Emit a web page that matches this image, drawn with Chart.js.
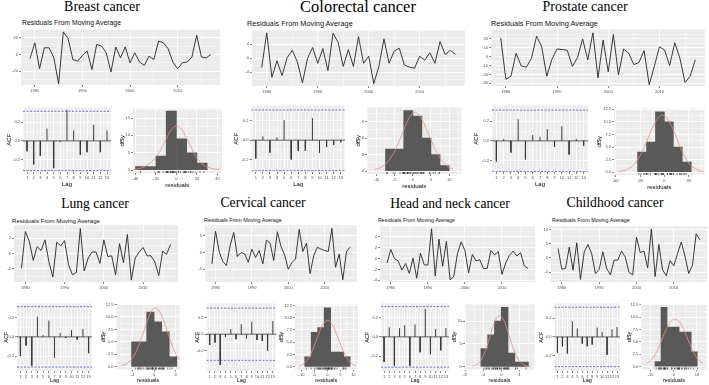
<!DOCTYPE html>
<html>
<head>
<meta charset="utf-8">
<title>Residuals from moving average</title>
<script src="https://cdn.jsdelivr.net/npm/chart.js@4.4.1/dist/chart.umd.min.js"></script>
<style>
  html, body { margin: 0; padding: 0; background: #fff; }
  body { position: relative; width: 709px; height: 385px; overflow: hidden; font-family: "Liberation Sans", Arial, sans-serif; }
  .title { position: absolute; font-family: "Liberation Serif", "Times New Roman", serif; line-height: 1; white-space: nowrap; color: #000; transform: translateX(-50%); }
  .sub { position: absolute; font-family: "Liberation Sans", Arial, sans-serif; line-height: 1; white-space: nowrap; color: #111; }
  canvas { position: absolute; }
</style>
</head>
<body>
<script>
"use strict";

// ---- data ----
const years = [1979, 1980, 1981, 1982, 1983, 1984, 1985, 1986, 1987, 1988,
  1989, 1990, 1991, 1992, 1993, 1994, 1995, 1996, 1997, 1998,
  1999, 2000, 2001, 2002, 2003, 2004, 2005, 2006, 2007, 2008,
  2009, 2010, 2011, 2012, 2013, 2014, 2015, 2016, 2017];
const lags = [1, 2, 3, 4, 5, 6, 7, 8, 9, 10, 11, 12, 13];
const acfLimit = 0.314;

// residuals
const breastResid = [-5, 14, -17, 8, 8, -4, -35, 27, 19, -6, -8, -1, 4, -18, 12, 10, 2, -21, 9, -4,
  9, -10, 2, -9, -13, -2, -6, 16, 14, 7, -9, -17, -10, -9, -3, 23, -3, -4, 0];
const colorectalResid = [-2.6, 7.3, -5.4, -0.7, -4.9, 0.2, 2.3, -1, -7, 0, 3.1, -1.4, 2.8, -3.5, 7.2, 4.6, -2.3, 2.5, -2.3, 6.2,
  -1.4, 0.6, -7.2, -2.3, 5.6, -1.4, 2.1, 2.9, -1.9, -2.5, -2.8, 0.6, -0.5, 1.6, -1.4, 4.8, 1.1, 2.3, 1.2];
const prostateResid = [21, -25.5, -22, 3.7, -10.4, -12, -2, 23, 11, -22, -3, 8.5, 8, 7, -11, -1, 19.6, -3.7, 26.7, -24,
  18.5, -17, 24.8, -20.4, 8.5, 3.7, -9, -6.7, 6.7, -31.5, -11, 11, 7.4, -10, 15.5, -2, -29, -22, -3.7];
const lungResid = [-1.96, 2.9, 1.6, -0.9, 0.9, 0.4, 1.8, -1.1, -3.1, 1.5, 1.0, 1.7, -1.5, -2.8, -2.5, 3.3, -2.3, -0.6, 0.2, 0.2,
  -1.3, 1.8, -0.4, -0.3, -2.8, 1.3, -1.2, 2.5, -3.5, -0.6, 0.2, 0.8, -0.3, -0.3, -1.1, -2.9, 0.3, -0.1, 1.2];
const cervicalResid = [-3.4, 6.4, 0.3, -2.7, -3.9, 2, 6, -1.2, 0, -0.4, -2.9, 1, -1.5, 0.6, -3.4, 3.7, 2.8, -2.4, 6.2, 1.8,
  -0.7, -5, -3, -1.9, 6.9, 0.3, 2.8, -6.3, -0.9, 1.6, 1, 0.6, 0.3, 7.2, -4.4, -0.5, -8.1, 0.3, 1.6];
const headNeckResid = [-0.8, 1.7, 0, -0.4, -2.1, -0.9, -2.7, 0.1, -3.6, 1, -1.1, -1.2, 5.5, -3.2, 3.6, -1.4, 3.2, -3.9, -3.3, 1,
  3.1, 1.5, -2.6, 0.8, -0.4, -0.2, -1.8, -1.8, 1.5, 0.7, 1.3, -2.9, -0.8, 0.6, 1.4, 0.5, 1.1, -1.3, -1.8];
const childhoodResid = [3.3, -4, -3.7, 3.8, -4.3, 5.3, -7.6, 2.1, 4.7, 1.5, -5.5, -4.1, 2.1, -3.7, -6, -0.8, -0.8, 2.4, 0.3, -5.1,
  -6, 7.3, 1.9, 2.4, -3.5, 10.2, -6.6, 4.7, -4.3, -6.3, -1, -2.8, 1.5, 5.6, 0.6, -5.5, -2.6, 8.5, 6.4];

// autocorrelations, lags 1..13
const breastAcf = [-0.11, -0.25, -0.16, 0.13, -0.29, -0.01, 0.33, 0.11, -0.15, -0.12, 0.17, -0.12, 0.11];
const colorectalAcf = [-0.19, 0.04, -0.13, 0.03, 0.21, -0.20, -0.11, -0.11, 0.23, -0.13, -0.07, -0.05, -0.02];
const prostateAcf = [-0.21, 0.02, -0.12, 0.22, -0.19, 0.06, 0.04, 0.12, -0.06, 0.15, -0.14, 0.02, -0.05];
const lungAcf = [-0.20, -0.09, -0.30, 0.21, 0.02, 0.17, -0.22, 0.04, -0.01, 0.07, -0.03, 0.08, -0.17];
const cervicalAcf = [-0.13, -0.10, -0.37, -0.03, 0.06, -0.06, 0.12, -0.05, 0.15, -0.07, -0.08, -0.20, 0.16];
const headNeckAcf = [-0.26, 0.10, -0.30, 0.09, 0.12, -0.30, 0.13, -0.16, 0.29, -0.18, 0.08, -0.14, 0.09];
const childhoodAcf = [-0.165, -0.10, -0.175, 0.165, 0.09, -0.07, -0.10, -0.08, 0.10, 0.05, -0.19, 0.08, 0.105];

// histogram bins (mid points) and counts
const breastBinMid = [-35, -25, -15, -5, 5, 15, 25];
const breastBinCount = [1, 1, 4, 17, 9, 5, 2];
const colorectalBinMid = [-6.25, -3.75, -1.25, 1.25, 3.75, 6.25, 8.75];
const colorectalBinCount = [4, 4, 11, 10, 6, 3, 1];
const prostateBinMid = [-27.5, -16.5, -5.5, 5.5, 16.5, 27.5];
const prostateBinCount = [4, 6, 12, 10, 5, 2];
const lungBinMid = [-3.5, -2.1, -0.7, 0.7, 2.1, 3.5];
const lungBinCount = [5, 5, 11, 9, 7, 2];
const cervicalBinMid = [-7.5, -5, -2.5, 0, 2.5, 5, 7.5];
const cervicalBinCount = [2, 7, 8, 12, 3, 3, 2];
const headNeckBinMid = [-3.75, -2.25, -0.75, 0.75, 2.25, 3.75, 5.25];
const headNeckBinCount = [4, 7, 10, 13, 3, 1, 1];
const childhoodBinMid = [-6.8, -4.2, -1.6, 1.0, 3.6, 6.2, 8.8];
const childhoodBinCount = [1, 12, 8, 8, 7, 7, 3];

// normal curves over the histograms
const breastDensX = [-42, -35, -30, -25, -20, -15, -10, -5, 0, 5, 10, 15, 20, 25, 30, 35, 42];
const breastDensY = [0.1, 0.5, 1.1, 2.2, 3.8, 6.0, 9.0, 11.6, 12.7, 11.8, 9.2, 6.2, 3.5, 1.8, 0.9, 0.4, 0.1];
const colorectalDensX = [-10.5, -9, -7.5, -6, -4.5, -3, -1.5, 0, 1, 2.5, 4, 5.5, 7, 8.5, 10, 11];
const colorectalDensY = [0.3, 0.6, 1.3, 2.5, 4.3, 6.6, 9.0, 10.5, 10.6, 9.4, 7.2, 4.9, 2.9, 1.5, 0.7, 0.4];
const prostateDensX = [-57, -45, -35, -28, -20, -12, -5, 0, 5, 12, 20, 28, 35, 45, 49];
const prostateDensY = [0.1, 0.6, 2.0, 3.9, 6.8, 9.7, 11.2, 11.2, 10.3, 8.0, 4.8, 2.3, 1.0, 0.2, 0.1];
const lungDensX = [-6.2, -5, -4, -3, -2, -1, 0, 1, 2, 3, 4, 4.7];
const lungDensY = [0.2, 0.7, 1.8, 3.9, 6.9, 10.0, 11.8, 11.1, 8.5, 5.3, 2.6, 1.4];
const cervicalDensX = [-11, -10, -8, -6, -4, -2, 0, 2, 4, 6, 8, 10, 11];
const cervicalDensY = [0.1, 0.3, 1.2, 3.1, 5.8, 8.3, 9.5, 8.5, 6.0, 3.3, 1.4, 0.4, 0.2];
const headNeckDensX = [-6.5, -5.5, -4.5, -3.5, -2.5, -1.5, -0.5, 0.5, 1.5, 2.5, 3.5, 4.5, 5.5, 6.5];
const headNeckDensY = [0.1, 0.4, 1.4, 3.5, 6.6, 9.7, 11.2, 10.3, 7.6, 4.5, 2.0, 0.8, 0.2, 0.05];
const childhoodDensX = [-11.5, -9.5, -7.5, -5.5, -3.5, -1.5, 0.5, 2.5, 4.5, 6.5, 8.5, 10.5, 12.5];
const childhoodDensY = [0.6, 1.4, 2.9, 5.0, 7.3, 9.0, 9.6, 9.0, 7.3, 5.0, 2.9, 1.4, 0.6];

// tick values
const yearTicks = [1980, 1990, 2000, 2010];
const yearMinor = [1985, 1995, 2005, 2015];
const lagMinor = [0.5, 1.5, 2.5, 3.5, 4.5, 5.5, 6.5, 7.5, 8.5, 9.5, 10.5, 11.5, 12.5, 13.5];
const acfTicks = [-0.2, 0, 0.2];
const acfMinor = [-0.3, -0.1, 0.1, 0.3];
const countTicks25 = [0, 2.5, 5, 7.5, 10, 12.5];
const countMinor25 = [1.25, 3.75, 6.25, 8.75, 11.25];

// ---- layout (pixel boxes of the grey panels) ----
const PAD_T = 3, PAD_R = 4;
const yearRange = [1977.1, 2018.9];
const lagRange = [0.4, 13.6];

// tPos: [centre x, baseline, size]; sPos: [left x, baseline, width to fill]
const panels = [
  { title: "Breast cancer", tPos: [102, 12, 14], sPos: [22, 26, 99], big: true,
    resid: breastResid, acf: breastAcf, mid: breastBinMid, count: breastBinCount, dx: breastDensX, dy: breastDensY,
    ts: { l: 21, t: 29, r: 220, b: 85, yw: 16, xh: 10, y: [-36.5, 30], ticks: [-20, 0, 20], minor: [-30, -10, 10, 30], d: 0 },
    ac: { l: 23, t: 107, r: 111, b: 172, yw: 17, xh: 16, y: [-0.33, 0.355] },
    hi: { l: 133, t: 107, r: 222, b: 173, yw: 14, xh: 16, x: [-42.4, 44], xt: [-40, -20, 0, 20, 40], xm: [-30, -10, 10, 30],
          y: [-0.85, 17.75], yt: [0, 5, 10, 15], ym: [2.5, 7.5, 12.5, 17.5], yd: 0 } },
  { title: "Colorectal cancer", tPos: [358, 13.3, 16.5], sPos: [247, 26, 106], big: true,
    resid: colorectalResid, acf: colorectalAcf, mid: colorectalBinMid, count: colorectalBinCount, dx: colorectalDensX, dy: colorectalDensY,
    ts: { l: 252, t: 30, r: 465, b: 86, yw: 16, xh: 10, y: [-7.9, 8.0], ticks: [-4, 0, 4], minor: [-6, -2, 2, 6], d: 0 },
    ac: { l: 251.5, t: 105, r: 344.5, b: 172, yw: 18.5, xh: 16, y: [-0.331, 0.362] },
    hi: { l: 366.5, t: 105.5, r: 462, b: 174, yw: 12, xh: 16, x: [-12.6, 13.4], xt: [-10, -5, 0, 5, 10], xm: [-12.5, -7.5, -2.5, 2.5, 7.5, 12.5],
          y: [-0.53, 11.55], yt: [0, 3, 6, 9], ym: [1.5, 4.5, 7.5, 10.5], yd: 0 } },
  { title: "Prostate cancer", tPos: [585, 11.7, 14], sPos: [491, 26, 107], big: true,
    resid: prostateResid, acf: prostateAcf, mid: prostateBinMid, count: prostateBinCount, dx: prostateDensX, dy: prostateDensY,
    ts: { l: 491, t: 29, r: 705, b: 86, yw: 16, xh: 10, y: [-33, 30.5], ticks: [-30, -20, -10, 0, 10, 20], minor: [-25, -15, -5, 5, 15, 25], d: 0 },
    ac: { l: 491.6, t: 105, r: 587.7, b: 172, yw: 19, xh: 16, y: [-0.318, 0.362] },
    hi: { l: 614, t: 107, r: 705, b: 174.5, yw: 18, xh: 16, x: [-62, 49.3], xt: [-60, -30, 0, 30], xm: [-45, -15, 15, 45],
          y: [-0.55, 12.64], yt: countTicks25, ym: countMinor25, yd: 1 } },
  { title: "Lung cancer", tPos: [95, 208, 13.6], sPos: [12, 222.7, 88], big: false,
    resid: lungResid, acf: lungAcf, mid: lungBinMid, count: lungBinCount, dx: lungDensX, dy: lungDensY,
    ts: { l: 14, t: 225, r: 178, b: 282, yw: 12, xh: 10, y: [-3.75, 3.7], ticks: [-2, 0, 2], minor: [-3, -1, 1, 3], d: 0 },
    ac: { l: 16.6, t: 303, r: 91.7, b: 371, yw: 14, xh: 13, y: [-0.355, 0.348] },
    hi: { l: 116, t: 303, r: 180, b: 369.5, yw: 16.5, xh: 14.5, x: [-7, 4.7], xt: [-4, 0, 4], xm: [-6, -2, 2],
          y: [-0.55, 12.5], yt: countTicks25, ym: countMinor25, yd: 1 } },
  { title: "Cervical cancer", tPos: [263, 207.7, 13.6], sPos: [204, 222.3, 78], big: false,
    resid: cervicalResid, acf: cervicalAcf, mid: cervicalBinMid, count: cervicalBinCount, dx: cervicalDensX, dy: cervicalDensY,
    ts: { l: 205, t: 225, r: 357, b: 282, yw: 12, xh: 10, y: [-8.8, 8.1], ticks: [-5, 0, 5], minor: [-7.5, -2.5, 2.5, 7.5], d: 0 },
    ac: { l: 206.9, t: 303, r: 275.6, b: 371, yw: 12.5, xh: 13, y: [-0.443, 0.371] },
    hi: { l: 295, t: 303, r: 358, b: 369.5, yw: 17, xh: 14.5, x: [-12.5, 11.6], xt: [-10, -5, 0, 5, 10], xm: [-7.5, -2.5, 2.5, 7.5],
          y: [-0.56, 12.7], yt: countTicks25, ym: countMinor25, yd: 1 } },
  { title: "Head and neck cancer", tPos: [450, 208.3, 13.6], sPos: [378, 222.3, 77], big: false,
    resid: headNeckResid, acf: headNeckAcf, mid: headNeckBinMid, count: headNeckBinCount, dx: headNeckDensX, dy: headNeckDensY,
    ts: { l: 380, t: 226, r: 535, b: 282, yw: 12, xh: 10, y: [-4.3, 5.95], ticks: [-4, -2, 0, 2, 4], minor: [-3, -1, 1, 3, 5], d: 0 },
    ac: { l: 381, t: 303, r: 448.5, b: 371, yw: 17, xh: 13, y: [-0.354, 0.347] },
    hi: { l: 465, t: 303, r: 535, b: 369.5, yw: 13.6, xh: 14.5, x: [-8.1, 7.35], xt: [-8, -4, 0, 4], xm: [-6, -2, 2, 6],
          y: [-0.6, 13.64], yt: [0, 5, 10], ym: [2.5, 7.5, 12.5], yd: 0 } },
  { title: "Childhood cancer", tPos: [615, 207.7, 13.7], sPos: [552, 222.3, 78], big: false,
    resid: childhoodResid, acf: childhoodAcf, mid: childhoodBinMid, count: childhoodBinCount, dx: childhoodDensX, dy: childhoodDensY,
    ts: { l: 551, t: 226, r: 707, b: 282, yw: 12, xh: 10, y: [-8.5, 11.1], ticks: [-5, 0, 5, 10], minor: [-7.5, -2.5, 2.5, 7.5], d: 0 },
    ac: { l: 554.6, t: 303, r: 620.4, b: 371, yw: 16.5, xh: 13, y: [-0.361, 0.355] },
    hi: { l: 641, t: 303, r: 707, b: 369.5, yw: 15.3, xh: 14.5, x: [-14, 14.1], xt: [-10, 0, 10], xm: [-5, 5],
          y: [-0.6, 12.6], yt: countTicks25, ym: countMinor25, yd: 1 } }
];

// ---- helpers ----
Chart.defaults.font.family = "'Liberation Sans', Arial, sans-serif";

const panelBg = {
  id: "panelBg",
  beforeDraw(chart) {
    const a = chart.chartArea, ctx = chart.ctx;
    ctx.save();
    ctx.fillStyle = "#EBEBEB";
    ctx.fillRect(a.left, a.top, a.right - a.left, a.bottom - a.top);
    ctx.restore();
  }
};

function addTitle(text, x, baseline, size) {
  const d = document.createElement("div");
  d.className = "title";
  d.textContent = text;
  d.style.fontSize = size + "px";
  d.style.left = x + "px";
  d.style.top = (baseline - 0.8375 * size) + "px";
  document.body.appendChild(d);
}

// subtitle scaled so that it fills the measured width
function addSub(text, x, baseline, width) {
  const d = document.createElement("div");
  d.className = "sub";
  d.textContent = text;
  d.style.fontSize = "20px";
  d.style.left = x + "px";
  document.body.appendChild(d);
  const size = 20 * width / d.getBoundingClientRect().width;
  d.style.fontSize = size.toFixed(2) + "px";
  d.style.top = (baseline - 0.8465 * size) + "px";
}

function makeCanvas(b) {
  const cv = document.createElement("canvas");
  const left = Math.round(b.l - b.yw), top = Math.round(b.t - PAD_T);
  cv.width = Math.round(b.r + PAD_R) - left;
  cv.height = Math.round(b.b + b.xh) - top;
  cv.style.left = left + "px";
  cv.style.top = top + "px";
  document.body.appendChild(cv);
  return cv;
}

function axis(min, max, major, minor, digits, fixed, title, titleSize) {
  const inRange = v => v >= min - 1e-9 && v <= max + 1e-9;
  const majors = major.filter(inRange);
  const minors = minor.filter(inRange);
  const isMajor = v => majors.some(m => Math.abs(m - v) < 1e-9);
  return {
    type: "linear", min: min, max: max, offset: false,
    afterBuildTicks: s => { s.ticks = majors.concat(minors).sort((a, b) => a - b).map(v => ({ value: v })); },
    afterFit: s => { if (s.isHorizontal()) s.height = fixed; else s.width = fixed; },
    ticks: {
      autoSkip: false, maxRotation: 0, minRotation: 0, padding: 1,
      color: "#4d4d4d", font: { size: 4 },
      callback: v => isMajor(v) ? Number(v).toFixed(digits) : ""
    },
    grid: {
      offset: false, color: "#ffffff",
      lineWidth: c => (c.tick && isMajor(c.tick.value)) ? 0.9 : 0.45,
      drawTicks: true, tickLength: 2, tickWidth: 0.6,
      tickColor: c => (c.tick && isMajor(c.tick.value)) ? "#333333" : "rgba(0,0,0,0)"
    },
    border: { display: false },
    title: title ? { display: true, text: title, color: "#000", font: { size: titleSize }, padding: 0 } : { display: false }
  };
}

function options(x, y) {
  return {
    responsive: false, animation: false, events: [],
    layout: { padding: { top: PAD_T, right: PAD_R, bottom: 0, left: 0 } },
    plugins: { legend: { display: false }, tooltip: { enabled: false } },
    scales: { x: x, y: y }
  };
}

// one vertical segment per lag, broken by null gaps
function spikes(values) {
  const pts = [];
  lags.forEach((l, i) => {
    pts.push({ x: l, y: 0 }, { x: l, y: values[i] }, { x: l, y: null });
  });
  return pts;
}

// ---- draw every panel ----
panels.forEach(p => {
  addTitle(p.title, p.tPos[0], p.tPos[1], p.tPos[2]);
  addSub("Residuals From Moving Average", p.sPos[0], p.sPos[1], p.sPos[2]);
  const ts = p.ts, ac = p.ac, hi = p.hi;
  const tSize = p.big ? 6 : 5.5;

  // residual series
  new Chart(makeCanvas(ts), {
    type: "line",
    data: { datasets: [{
      data: years.map((yr, i) => ({ x: yr, y: p.resid[i] })),
      borderColor: "#262626", borderWidth: 0.9, pointRadius: 0, tension: 0, fill: false
    }] },
    options: options(
      axis(yearRange[0], yearRange[1], yearTicks, yearMinor, 0, ts.xh),
      axis(ts.y[0], ts.y[1], ts.ticks, ts.minor, ts.d, ts.yw)),
    plugins: [panelBg]
  });

  // ACF
  new Chart(makeCanvas(ac), {
    type: "line",
    data: { datasets: [
      { data: spikes(p.acf), borderColor: "#3a3a3a", borderWidth: 1, pointRadius: 0, spanGaps: false },
      { data: [{ x: lagRange[0], y: 0 }, { x: lagRange[1], y: 0 }],
        borderColor: "#333333", borderWidth: 0.8, pointRadius: 0 },
      { data: [{ x: lagRange[0], y: acfLimit }, { x: lagRange[1], y: acfLimit }],
        borderColor: "#2f2fff", borderWidth: 0.7, borderDash: [2, 1.5], pointRadius: 0 },
      { data: [{ x: lagRange[0], y: -acfLimit }, { x: lagRange[1], y: -acfLimit }],
        borderColor: "#2f2fff", borderWidth: 0.7, borderDash: [2, 1.5], pointRadius: 0 }
    ] },
    options: options(
      axis(lagRange[0], lagRange[1], lags, lagMinor, 0, ac.xh, "Lag", tSize),
      axis(ac.y[0], ac.y[1], acfTicks, acfMinor, 1, ac.yw, "ACF", tSize)),
    plugins: [panelBg]
  });

  // histogram with normal curve and rug
  new Chart(makeCanvas(hi), {
    type: "bar",
    data: { datasets: [
      { type: "scatter", data: p.resid.map(v => ({ x: v, y: hi.y[0] })),
        pointStyle: "line", rotation: 90, radius: 2, borderColor: "#1a1a1a", borderWidth: 0.5, clip: 0 },
      { type: "line", data: p.dx.map((v, i) => ({ x: v, y: p.dy[i] })),
        borderColor: "#f0907a", borderWidth: 0.8, pointRadius: 0, tension: 0.4 },
      { type: "bar", data: p.mid.map((m, i) => ({ x: m, y: p.count[i] })),
        backgroundColor: "#595959", borderWidth: 0, barPercentage: 1, categoryPercentage: 1 }
    ] },
    options: options(
      axis(hi.x[0], hi.x[1], hi.xt, hi.xm, 0, hi.xh, "residuals", tSize),
      axis(hi.y[0], hi.y[1], hi.yt, hi.ym, hi.yd, hi.yw, "df$y", tSize)),
    plugins: [panelBg]
  });
});
</script>
</body>
</html>
